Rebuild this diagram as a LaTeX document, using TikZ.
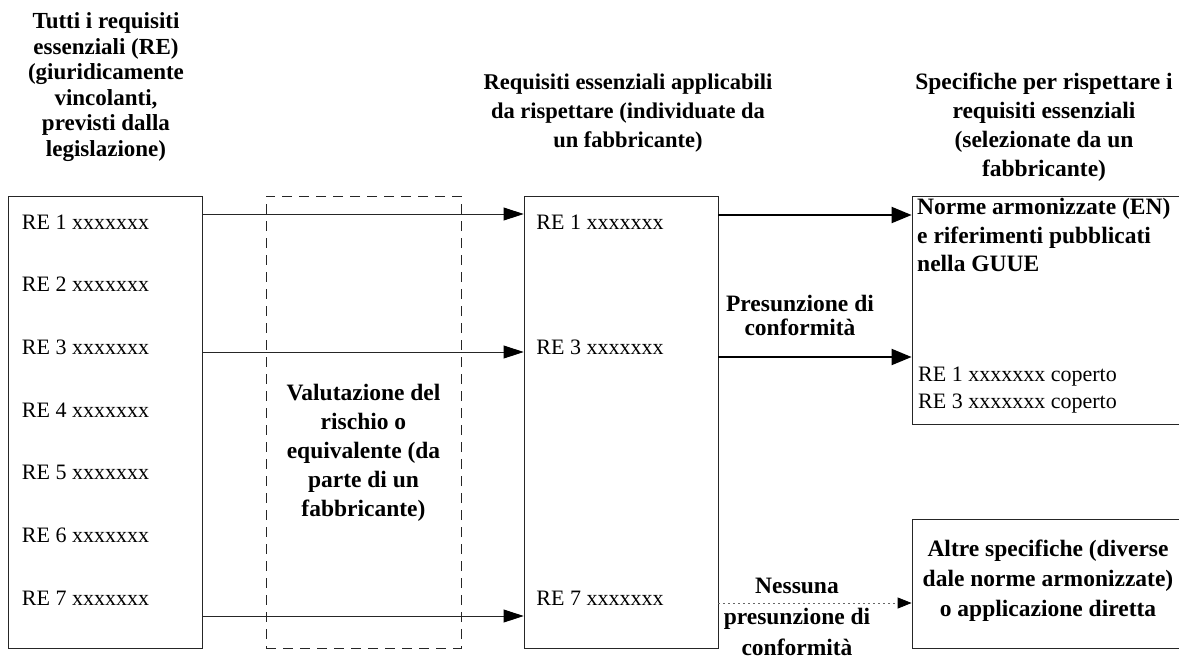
\documentclass[tikz,border=0pt]{standalone}
\usepackage{fontspec}
\setmainfont{Liberation Serif}
\usetikzlibrary{positioning,arrows.meta}

\begin{document}
\begin{tikzpicture}[x=1pt,y=-1pt,node distance=63pt,on grid]
    \tikzset{box/.style={draw=black!85,line width=0.8pt,inner sep=0pt},
      heading/.style={font=\bfseries\fontsize{23.5}{29}\selectfont,align=center,inner sep=0pt},
      req/.style={font=\fontsize{22}{27}\selectfont,inner sep=0pt},
      thinarrow/.style={draw=black!85,line width=0.8pt,-{Triangle[length=20pt,width=13pt,black]}},
      thickarrow/.style={line width=2pt,-{Triangle[length=20pt,width=16pt]}},
      dotarrow/.style={draw=black!60,line width=0.8pt,dash pattern=on 2pt off 3pt,-{Triangle[length=14pt,width=11pt,black]}}}
    \useasboundingbox (0,0) rectangle (1179,662);
    \clip (0,0) rectangle (1179,662);
    % boxes
    \node[box,minimum width=194pt,minimum height=452pt] (all) at (105,422) {};
    \node[box,dash pattern=on 10pt off 7pt,minimum width=195pt,minimum height=452pt] (risk) at (363.5,422) {};
    \node[box,minimum width=194pt,minimum height=452pt] (app) at (621,422) {};
    \node[box,minimum width=290pt,minimum height=228pt] (norm) at (1057,310) {};
    \node[box,minimum width=290pt,minimum height=129pt] (other) at (1057,583.5) {};
    % headings
    \node[heading,font=\bfseries\fontsize{23}{25.5}\selectfont] (allhead) at (106,87)
      {Tutti i requisiti\\essenziali (RE)\\(giuridicamente\\vincolanti,\\previsti dalla\\legislazione)};
    \node[heading,font=\bfseries\fontsize{22.5}{29}\selectfont] (apphead) at (628,113)
      {Requisiti essenziali applicabili\\da rispettare (individuate da\\un fabbricante)};
    \node[heading] (normhead) at (1044,127.5)
      {Specifiche per rispettare i\\requisiti essenziali\\(selezionate da un\\fabbricante)};
    % requirements
    \node[req] (re1) at (85.5,222) {RE 1 xxxxxxx};
    \foreach \i [remember=\i as \j (initially 1)] in {2,...,7}
      \node[req] (re\i) [below=62.7pt of re\j] {RE \i\ xxxxxxx};
    \node[req] (ap1) at (600,222) {RE 1 xxxxxxx};
    \node[req] (ap3) at (600,347) {RE 3 xxxxxxx};
    \node[req] (ap7) at (600,598) {RE 7 xxxxxxx};
    % inner texts
    \node[heading] (risktxt) at (363.5,453)
      {Valutazione del\\rischio o\\equivalente (da\\parte di un\\fabbricante)};
    \node[heading,align=left,anchor=west,font=\bfseries\fontsize{23.5}{28.5}\selectfont] (normtxt) at (917,235)
      {Norme armonizzate (EN)\\e riferimenti pubblicati\\nella GUUE};
    \node[req,align=left,anchor=west] (covered) at (918,390)
      {RE 1 xxxxxxx coperto\\RE 3 xxxxxxx coperto};
    \node[heading,font=\bfseries\fontsize{23.5}{30}\selectfont] (othertxt) at (1048,581)
      {Altre specifiche (diverse\\dale norme armonizzate)\\o applicazione diretta};
    % arrows
    \coordinate (l1) at (0,214);
    \coordinate (l3) at (0,352);
    \coordinate (l7) at (0,616);
    \coordinate (r1) at (0,215);
    \coordinate (r3) at (0,357);
    \coordinate (r7) at (0,603);
    \foreach \k in {1,3,7}
      \draw[thinarrow] (all.east |- l\k) -- (app.west |- l\k);
    \draw[thickarrow] (app.east |- r1) -- (norm.west |- r1);
    \draw[thickarrow] (app.east |- r3) -- (norm.west |- r3);
    \draw[dotarrow] (app.east |- r7) -- (other.west |- r7);
    \node[heading,font=\bfseries\fontsize{23.5}{24}\selectfont] (yes) at (800,315) {Presunzione di\\conformità};
    \node[heading,font=\bfseries\fontsize{23.5}{31}\selectfont] (no) at (797,617) {Nessuna\\presunzione di\\conformità};
  \end{tikzpicture}
\end{document}
